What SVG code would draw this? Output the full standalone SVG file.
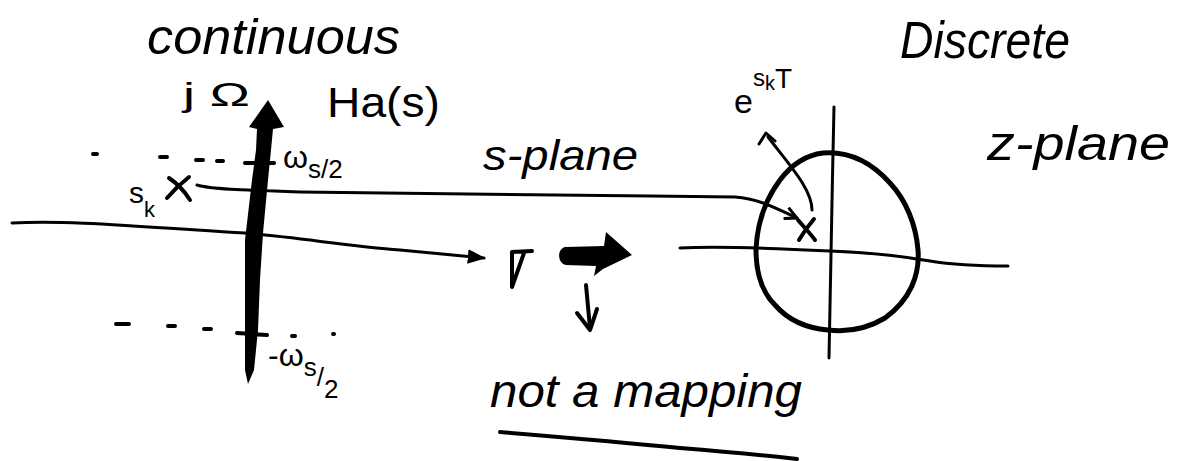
<svg xmlns="http://www.w3.org/2000/svg" width="1202" height="461" viewBox="0 0 1202 461">
<defs>
<style>
.t{font-family:"Liberation Sans",Arial,sans-serif;fill:#000}
.w{font-style:italic}
.ln{fill:none;stroke:#000;stroke-linecap:round;stroke-linejoin:round}
</style>
<marker id="ah" viewBox="0 0 10 10" refX="9" refY="5" markerWidth="6" markerHeight="6" orient="auto" markerUnits="strokeWidth">
<path d="M0,1 L10,5 L0,9 Z" fill="#000"/>
</marker>
<marker id="oh" viewBox="0 0 10 10" refX="9" refY="5" markerWidth="5" markerHeight="5" orient="auto" markerUnits="strokeWidth">
<path d="M1,1 L9,5 L1,9" fill="none" stroke="#000" stroke-width="2"/>
</marker>
</defs>
<rect width="1202" height="461" fill="#fff"/>

<g id="labels">
<text class="t w" x="147" y="54" font-size="50" textLength="253" lengthAdjust="spacingAndGlyphs">continuous</text>
<text class="t" x="183" y="106" font-size="34" textLength="67" lengthAdjust="spacingAndGlyphs">j Ω</text>
<text class="t" x="327" y="117" font-size="42" textLength="113" lengthAdjust="spacingAndGlyphs">Ha(s)</text>
<text class="t w" x="483" y="170" font-size="42" textLength="155" lengthAdjust="spacingAndGlyphs">s-plane</text>
<text class="t w" x="900" y="58" font-size="52" textLength="170" lengthAdjust="spacingAndGlyphs">Discrete</text>
<text class="t w" x="987" y="160" font-size="48" textLength="183" lengthAdjust="spacingAndGlyphs">z-plane</text>
<text class="t w" x="490" y="407" font-size="46" textLength="312" lengthAdjust="spacingAndGlyphs">not a mapping</text>
</g>

<g id="s-plane">
<g id="jomega-axis">
<path d="M268,100 L284,127 L273,129 L271,150 L268,180 L263,233 L260,280 L258,330 L254,370 L248,384 L245,370 L245,330 L245,280 L245,240 L252,180 L256,150 L257,129 L249,127 Z" fill="#000"/>
</g>
<g id="ws2">
<path class="ln" stroke-width="4" d="M245,163 L274,163"/>
<path class="ln" stroke-width="4" d="M93,154 L97,154 M160,157 L167,157 M196,160 L203,160 M217,161 L223,161"/>
<text class="t" x="283" y="168" font-size="32">ω<tspan font-size="26" dy="10">s/2</tspan></text>
</g>
<g id="minus-ws2">
<path class="ln" stroke-width="4" d="M237,333 L267,335"/>
<path class="ln" stroke-width="4" d="M116,324 L129,324 M168,326 L175,326 M204,329 L211,329 M292,336 L295,336 M333,334 L334,334"/>
<text class="t" x="268" y="366" font-size="32">-ω<tspan font-size="26" dy="10">s</tspan><tspan font-size="26" dy="10">/</tspan><tspan font-size="26" dy="12">2</tspan></text>
</g>
<g id="sk">
<text class="t" x="129" y="203" font-size="30">s<tspan font-size="22" dy="14">k</tspan></text>
<path class="ln" stroke-width="4" d="M169,178 C178,184 185,192 190,200 M189,177 C180,184 173,191 167,198"/>
</g>
</g>

<g id="z-plane">
<path class="ln" stroke-width="3" d="M834,107 C832,190 831,270 829,358"/>
<path class="ln" stroke-width="5" d="M823,153 C850,151 872,163 890,183 C906,200 916,225 918,250 C920,275 910,300 885,318 C865,330 845,332 828,330 C805,328 788,320 775,305 C760,290 756,270 756,250 C757,225 765,200 780,180 C792,164 806,155 823,153 Z"/>
<path class="ln" stroke-width="3" d="M680,248 C720,246 790,249 830,251 C880,253 905,257 930,261 C960,266 990,266 1008,266"/>
<path class="ln" stroke-width="4" d="M798,220 C803,226 810,233 815,240 M814,219 C808,226 803,233 799,240"/>
<path class="ln" stroke-width="3" d="M812,210 C812,190 792,168 768,137"/>
<path class="ln" stroke-width="3" d="M759,144 L766,133 L775,141"/>
<text class="t" x="734" y="113" font-size="34">e<tspan font-size="24" dy="-27">s</tspan><tspan font-size="20" dy="4">k</tspan><tspan font-size="28" dy="-2">T</tspan></text>
</g>

<g id="middle">
<path class="ln" stroke-width="4" d="M512,252 L532,251 M512,252 L512,287 L524,253"/>
<path d="M565,247 L604,246 L606,232 L632,255 L603,269 L594,276 L596,266 L566,265 C557,263 557,249 565,247 Z" fill="#000"/>
</g>

<g id="connectors">
<path class="ln" stroke-width="3" d="M12,223 C60,220 120,225 245,233 C300,238 350,246 400,250 L484,258" marker-end="url(#ah)"/>
<path class="ln" stroke-width="3" d="M197,185 C210,189 240,190 300,192 L650,196 L735,197 C760,199 775,208 797,218" marker-end="url(#oh)"/>
<path class="ln" stroke-width="4" d="M586,285 L590,328"/>
<path class="ln" stroke-width="4" d="M577,313 L590,330 L597,309"/>
<path class="ln" stroke-width="4" d="M500,432 C560,437 620,442 680,448 C730,452 770,456 797,459"/>
</g>
</svg>
